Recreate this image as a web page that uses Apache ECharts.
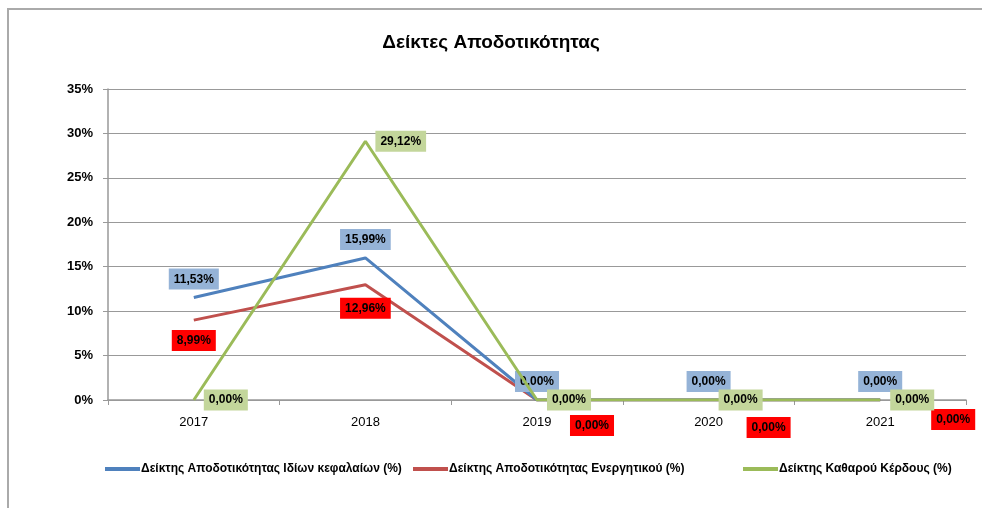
<!DOCTYPE html>
<html>
<head>
<meta charset="utf-8">
<script src="https://cdn.jsdelivr.net/npm/echarts@6/dist/echarts.min.js"></script>
<style>
html,body{margin:0;padding:0;background:#fff}
#main{width:982px;height:508px}
</style>
</head>
<body>
<div id="main"></div>
<script>
var years = ['2017', '2018', '2019', '2020', '2021']
var equity = [11.53, 15.99, 0, 0, 0]
var assets = [8.99, 12.96, 0, 0, 0]
var netProfit = [0, 29.12, 0, 0, 0]
var names = ['Δείκτης Αποδοτικότητας Ιδίων κεφαλαίων (%)', 'Δείκτης Αποδοτικότητας Ενεργητικού (%)', 'Δείκτης Καθαρού Κέρδους (%)']

var font = 'Liberation Sans'
function fmt(v){
	return v.toFixed(2).replace('.', ',') + '%'
}
function lbl(bg, pos, dist){
	return {
		show: true,
		position: pos,
		distance: dist,
		formatter: function(p){ return fmt(p.value) },
		backgroundColor: bg,
		color: '#000',
		fontFamily: font,
		fontWeight: 'bold',
		fontSize: 12,
		padding: [5, 5, 4, 5]
	}
}
// rode labels bij nulwaarden staan rechtsonder
var redOffsets = [[0, 0], [0, 3], [55, 5], [60, 7], [73, -1]]
var redData = assets.map(function(v, i){
	return {value: v, label: {offset: redOffsets[i]}}
})
function legendAt(x, i){
	return {
		left: x,
		bottom: 28,
		itemGap: 0,
		itemWidth: 35,
		itemHeight: 4,
		icon: 'rect',
		textStyle: {fontFamily: font, fontWeight: 'bold', fontSize: 12, color: '#000', padding: [0, 0, 0, -4]},
		data: [names[i]]
	}
}

var chart = echarts.init(document.getElementById('main'))
chart.setOption({
	animation: false,
	title: {
		text: 'Δείκτες Αποδοτικότητας',
		left: 'center',
		top: 28,
		textStyle: {fontFamily: font, fontSize: 19, fontWeight: 'bold', color: '#000'}
	},
	graphic: [{
		type: 'rect',
		shape: {x: 8, y: 9, width: 1000, height: 520},
		style: {fill: 'none', stroke: '#aaa', lineWidth: 2},
		silent: true
	}],
	legend: [legendAt(100, 0), legendAt(408, 1), legendAt(738, 2)],
	grid: {left: 108, right: 16, top: 89, bottom: 108},
	xAxis: {
		type: 'category',
		data: years,
		boundaryGap: true,
		axisLine: {lineStyle: {color: '#999', width: 1.5}},
		axisTick: {show: true, length: 5, lineStyle: {color: '#999'}},
		axisLabel: {color: '#000', fontFamily: font, fontSize: 13, margin: 16}
	},
	yAxis: {
		type: 'value',
		min: 0,
		max: 35,
		interval: 5,
		axisLine: {show: true, lineStyle: {color: '#999', width: 1.5}},
		axisTick: {show: true, length: 5, lineStyle: {color: '#999'}},
		splitLine: {lineStyle: {color: '#999', width: 1}},
		axisLabel: {color: '#000', fontFamily: font, fontSize: 13, fontWeight: 'bold', margin: 15, formatter: '{value}%'}
	},
	series: [{
		name: names[0],
		type: 'line',
		data: equity,
		symbol: 'circle',
		symbolSize: 0,
		color: '#4F81BD',
		lineStyle: {width: 3},
		label: lbl('#95B3D7', 'top', 8),
		z: 3
	}, {
		name: names[1],
		type: 'line',
		data: redData,
		symbol: 'circle',
		symbolSize: 0,
		color: '#C0504D',
		lineStyle: {width: 3},
		label: lbl('#FF0000', 'bottom', 10),
		z: 2
	}, {
		name: names[2],
		type: 'line',
		data: netProfit,
		symbol: 'circle',
		symbolSize: 0,
		color: '#9BBB59',
		lineStyle: {width: 3},
		label: lbl('#C3D69B', 'right', 10),
		z: 4
	}]
})
</script>
</body>
</html>
